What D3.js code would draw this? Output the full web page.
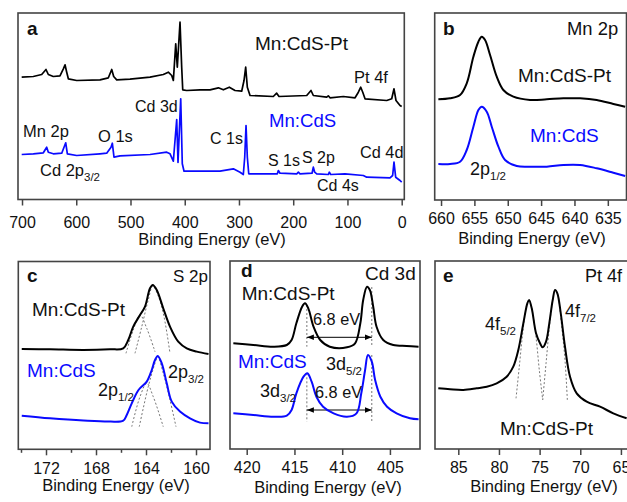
<!DOCTYPE html>
<html lang="en">
<head>
<meta charset="UTF-8">
<script src="https://d3js.org/d3.v7.min.js"></script>
<title>XPS spectra</title>
<style>
body { margin: 0; background: #fff; }
svg { display: block; font-family: 'Liberation Sans', Arial, sans-serif; }
.tick text { font-size: 16px; fill: #111; font-family: 'Liberation Sans', Arial, sans-serif; }
.tick line { stroke: #444; stroke-width: 1.5; }
</style>
</head>
<body>
<svg id="canvas"></svg>
<script>
// ---- data: [binding energy (eV), intensity (a.u.)] ----
let surveyPt = [[700.6,122.3],[679.2,123],[663.7,125],[655.8,130],[651.5,125],[642.3,123],[630,123.7],[623.8,130.7],[620.7,134.7],[617.6,127.3],[614.6,120.7],[599.2,119],[556.2,119.7],[540.8,121.7],[534.6,130],[531,123],[525.4,119.7],[500.9,120.3],[464,122.3],[439.5,125],[430.3,127.3],[424,124],[421,119],[416.6,155.7],[413.7,132.3],[408.7,177.3],[405.6,132.3],[403.7,109.7],[396.4,109],[371.8,109.7],[353.4,109.7],[338,111.7],[328.8,109.7],[317.8,112.3],[307.3,109],[295,108.3],[290.7,119],[287.6,132.3],[284.6,112.3],[279.6,104],[236.7,103],[230.5,106.3],[226.2,103],[175.1,104],[167.2,109],[162.9,104],[138.3,102.3],[135.3,103.7],[132.2,101.7],[107.6,103],[86,101.7],[79.9,107.3],[75.5,112.3],[71.8,107.3],[67.6,100.7],[27.6,99],[18.4,100.7],[14.2,110.7],[10.5,99],[3.1,94],[0,93]]
let surveyCdS = [[700.6,45],[679.2,45.7],[660.7,46.7],[654.5,52.3],[651.5,47.3],[642.3,45.7],[626.8,46.3],[619.4,56.7],[616.4,45.7],[599.2,44],[556.2,45.7],[543.9,46.3],[535.9,52.3],[533.5,56.3],[530.4,42.3],[519.3,43.7],[464,45],[433.2,47.3],[427.1,45.7],[421,38.3],[414.8,80],[412.4,37],[407.4,100.7],[404.5,35.7],[401.3,28.3],[371.8,28.3],[335,28.3],[310.4,30.7],[298,27.3],[292,25],[289.4,42.3],[287,74],[284.6,42.3],[282,25.7],[248.9,25.7],[229.3,25.7],[227.4,29],[224.3,26.3],[193.5,25.7],[190.5,27.3],[187.5,25.7],[165.3,26.3],[162.9,32.3],[160.4,27.3],[156.7,25.7],[135.3,25],[133.4,27.3],[130.9,25],[104.5,25.7],[70.7,24],[64.5,22.3],[21.6,21.7],[16.7,24],[14.2,37.3],[11.1,22.3],[3.1,19],[0,17.3]]

let mnPt = [[660.4,100.7],[658.65,101.7],[657.15,105],[656.15,116.7],[655.15,143.3],[654.4,158.3],[653.9,163.3],[653.4,160],[652.65,145],[651.65,123.3],[650.66,110],[649.16,103.3],[646.66,100],[644.15,100.7],[641.66,101.7],[639.16,101.7],[636.66,100],[634.17,96],[632.4,93.3]]
let mnCdS = [[660.4,36],[658.65,36],[657.15,38.3],[656.15,50],[655.15,73.3],[654.4,90],[653.9,93.3],[653.15,88.3],[652.4,73.3],[651.4,53.3],[650.4,40],[648.65,34],[646.66,33.3],[644.15,33.3],[641.66,35],[639.16,35],[636.66,31.7],[634.17,27.3],[632.4,24]]

let sPt = [[173.94,100.3],[171.68,100],[169,99.3],[166.88,100],[165.82,101],[165.42,109.3],[165.02,122.7],[164.48,134.3],[164.08,142.7],[163.68,161],[163.46,164.3],[163.14,159.3],[162.62,141],[162.08,122.7],[161.42,107.7],[160.74,101],[159.94,97.7],[159,95.3]]
let sCdS = [[173.94,33.6],[171.68,31],[169,28.7],[166.88,27.7],[165.82,28.7],[165.54,34.3],[165.14,46],[164.6,59.3],[163.94,67.7],[163.54,79.3],[163.28,89.3],[163.06,93.3],[162.74,86],[162.34,66],[161.94,47.7],[161.28,37.7],[160.48,31],[159.68,26.7],[159,26]]
let sPtFit1 = [[165.6,96],[165.02,119.3],[164.48,134.3],[163.94,121],[163.28,97.6]]
let sPtFit2 = [[164.88,96],[164.34,122.6],[163.82,149.3],[163.46,163.3],[163,152.6],[162.56,132.6],[162.08,96]]
let sCdSFit1 = [[165.14,22.6],[164.48,52.6],[163.94,66],[163.42,52.6],[162.62,22.6]]
let sCdSFit2 = [[164.54,22.6],[163.82,62.6],[163.28,86],[163.06,92.6],[162.62,76],[162.08,49.3],[161.6,22.6]]

let cdPt = [[421.4,105.7],[419.3,104],[417.2,102.3],[415.8,104],[415.3,109],[414.8,125.7],[414.2,142.3],[413.9,145.7],[413.55,140.7],[413,122.3],[412.3,109],[411.3,102.3],[409.5,101.7],[408.65,105.7],[408.1,125.7],[407.8,149],[407.4,162.3],[407.1,159],[406.75,142.3],[406.4,122.3],[405.7,109],[404.65,104],[403.25,103],[402,102.3]]
let cdCdS = [[421.4,35.7],[419.3,34],[417.2,32.3],[415.8,33.3],[415.3,39],[414.8,55.7],[414.05,72.3],[413.65,75.7],[413.2,67.3],[412.7,52.3],[412,42.3],[410.9,35.7],[409.5,32.3],[408.5,35.7],[408,55.7],[407.6,79],[407.3,94],[406.9,87.3],[406.55,69],[406,52.3],[405.3,42.3],[404.3,35.7],[402.9,30.7],[402,29.7]]
let cdPeaks = [413.7, 406.9]
let cdPtMarks = [144, 162, 102.3, 111.7]    // left top, right top, bottom, arrow level
let cdCdSMarks = [75.7, 94, 27.5, 39]

let ptPt = [[87.46,60.7],[86.02,59.7],[84.38,59],[82.74,60.7],[81.5,62.3],[80.28,65.7],[79.05,72.3],[78.24,82.3],[77.62,99],[77,125.7],[76.51,145.7],[76.3,149],[75.97,140.7],[75.44,115.7],[74.95,105.7],[74.62,101.7],[74.21,107.3],[73.81,125.7],[73.39,149],[73.1,159],[72.82,155.7],[72.4,135.7],[71.88,102.3],[71.26,72.3],[70.44,55.7],[69.21,47.3],[67.57,42.3],[65.94,35.7],[64.3,30.7]]
let ptFit1 = [[77.9,50.7],[77.5,82.3],[77.08,115.7],[76.59,144],[76.3,149],[75.97,140.7],[75.44,111.7],[75.04,79],[74.62,49]]
let ptFit2 = [[74.62,49],[74.21,85.7],[73.81,120.7],[73.39,149],[73.1,159],[72.82,155.7],[72.28,122.3],[71.88,89],[71.59,49]]

let ticksA = [700, 600, 500, 400, 300, 200, 100, 0]
let ticksB = [660, 655, 650, 645, 640, 635]
let ticksC = [172, 168, 164, 160]
let ticksCMinor = [174, 170, 166, 162]
let ticksD = [420, 415, 410, 405]
let ticksE = [85, 80, 75, 70, 65]

// ---- layout ----
let width = 627
let height = 502
let black = '#000'
let blue = '#0a0aff'

let svg = d3.select('#canvas').attr('width', width).attr('height', height)

svg.append('defs').append('marker')
    .attr('id', 'head')
    .attr('viewBox', '0 0 10 10')
    .attr('refX', 10).attr('refY', 5)
    .attr('markerWidth', 7).attr('markerHeight', 7)
    .attr('orient', 'auto-start-reverse')
    .append('path').attr('d', 'M0,1 L10,5 L0,9 Z').attr('fill', '#000')

let makePanel = (p) => {
    let x = d3.scaleLinear().domain(p.xDomain).range([p.left, p.right])
    let y = d3.scaleLinear().domain([0, p.bottom - p.top]).range([p.bottom, p.top])
    let g = svg.append('g')

    if (p.minor) {
        g.append('g')
            .attr('transform', 'translate(0,' + p.bottom + ')')
            .call(d3.axisBottom(x).tickValues(p.minor).tickSize(3.5).tickFormat(''))
            .call(a => a.select('.domain').remove())
    }
    let axis = d3.axisBottom(x)
        .tickValues(p.ticks)
        .tickSize(6)
        .tickPadding(p.pad)
        .tickFormat(d3.format('d'))
    g.append('g')
        .attr('transform', 'translate(0,' + p.bottom + ')')
        .call(axis)
        .call(a => a.select('.domain').remove())

    g.append('rect')
        .attr('x', p.left).attr('y', p.top)
        .attr('width', p.right - p.left).attr('height', p.bottom - p.top)
        .attr('fill', 'none').attr('stroke', '#444').attr('stroke-width', 1.6)

    g.append('text')
        .attr('x', p.titleX).attr('y', p.titleY)
        .attr('text-anchor', 'middle')
        .attr('font-size', 16.5)
        .attr('fill', '#111')
        .text('Binding Energy (eV)')

    p.x = x
    p.y = y
    p.g = g
    return p
}

let drawLine = (p, data, color, opts) => {
    opts = opts || {}
    let line = d3.line()
        .x(d => p.x(d[0]))
        .y(d => p.y(d[1]))
        .curve(opts.curve || d3.curveCatmullRom.alpha(0.5))
    p.g.append('path')
        .datum(data)
        .attr('d', line)
        .attr('fill', 'none')
        .attr('stroke', color)
        .attr('stroke-width', opts.width || 2)
        .attr('stroke-dasharray', opts.dash || null)
        .attr('stroke-linejoin', 'round')
}

let label = (x, y, size, txt, opts) => {
    opts = opts || {}
    let t = svg.append('text')
        .attr('x', x).attr('y', y)
        .attr('font-size', size)
        .attr('fill', opts.color || '#111')
        .attr('font-weight', opts.bold ? 'bold' : null)
        .text(txt)
    if (opts.sub) {
        t.append('tspan')
            .attr('dy', 5)
            .attr('font-size', 11.5)
            .text(opts.sub)
    }
}

// ---- panel a: survey ----
let pa = makePanel({left: 18, right: 404.3, top: 13, bottom: 199.5,
    xDomain: [707.4, -4.8], ticks: ticksA, pad: 11, titleX: 212, titleY: 245})
drawLine(pa, surveyPt, black, {curve: d3.curveLinear, width: 1.7})
drawLine(pa, surveyCdS, blue, {curve: d3.curveLinear, width: 1.7})
label(27, 35, 19, 'a', {bold: true})
label(255, 50, 19, 'Mn:CdS-Pt')
label(354, 83, 16.5, 'Pt 4f')
label(135, 111.5, 16, 'Cd 3d')
label(269, 126.7, 18.6, 'Mn:CdS', {color: blue})
label(210, 144, 16, 'C 1s')
label(23, 137, 16.5, 'Mn 2p')
label(98, 141.5, 16.5, 'O 1s')
label(40, 176, 16.5, 'Cd 2p', {sub: '3/2'})
label(268, 165.7, 16, 'S 1s')
label(302, 163.3, 16, 'S 2p')
label(360, 158.3, 16.3, 'Cd 4d')
label(317, 190.7, 16, 'Cd 4s')

// ---- panel b: Mn 2p ----
let pb = makePanel({left: 434.7, right: 626.5, top: 13, bottom: 200,
    xDomain: [660.95, 632.2], ticks: ticksB, pad: 7, titleX: 532, titleY: 244})
drawLine(pb, mnPt, black)
drawLine(pb, mnCdS, blue)
label(443, 35, 19, 'b', {bold: true})
label(567, 35, 18.4, 'Mn 2p')
label(518, 81.7, 19, 'Mn:CdS-Pt')
label(530, 141.7, 19, 'Mn:CdS', {color: blue})
label(470, 175, 18, '2p', {sub: '1/2'})

// ---- panel c: S 2p ----
let pc = makePanel({left: 18.3, right: 210, top: 261.5, bottom: 449.3,
    xDomain: [174.216, 158.88], ticks: ticksC, minor: ticksCMinor, pad: 7, titleX: 116, titleY: 491})
drawLine(pc, sPtFit1, '#777', {width: 1, dash: '2,2'})
drawLine(pc, sPtFit2, '#777', {width: 1, dash: '2,2'})
drawLine(pc, sCdSFit1, '#777', {width: 1, dash: '2,2'})
drawLine(pc, sCdSFit2, '#777', {width: 1, dash: '2,2'})
drawLine(pc, sPt, black)
drawLine(pc, sCdS, blue)
label(27, 282, 19, 'c', {bold: true})
label(173, 282, 17, 'S 2p')
label(32, 315.7, 19, 'Mn:CdS-Pt')
label(27, 376.7, 19, 'Mn:CdS', {color: blue})
label(168, 378, 18, '2p', {sub: '3/2'})
label(98, 395.7, 18, '2p', {sub: '1/2'})

// ---- panel d: Cd 3d ----
let pd = makePanel({left: 230, right: 420, top: 261, bottom: 449,
    xDomain: [421.75, 401.85], ticks: ticksD, pad: 7, titleX: 328, titleY: 493})
;[cdPtMarks, cdCdSMarks].forEach(m => {
    pd.g.append('line')
        .attr('x1', pd.x(cdPeaks[0])).attr('x2', pd.x(cdPeaks[0]))
        .attr('y1', pd.y(m[0])).attr('y2', pd.y(m[2]))
        .attr('stroke', '#777').attr('stroke-width', 1).attr('stroke-dasharray', '2,2')
    pd.g.append('line')
        .attr('x1', pd.x(cdPeaks[1])).attr('x2', pd.x(cdPeaks[1]))
        .attr('y1', pd.y(m[1])).attr('y2', pd.y(m[2]))
        .attr('stroke', '#777').attr('stroke-width', 1).attr('stroke-dasharray', '2,2')
    pd.g.append('line')
        .attr('x1', pd.x(cdPeaks[0])).attr('x2', pd.x(cdPeaks[1]))
        .attr('y1', pd.y(m[3])).attr('y2', pd.y(m[3]))
        .attr('stroke', '#000').attr('stroke-width', 1)
        .attr('marker-start', 'url(#head)').attr('marker-end', 'url(#head)')
})
drawLine(pd, cdPt, black)
drawLine(pd, cdCdS, blue)
label(241, 277, 19, 'd', {bold: true})
label(365, 280, 19, 'Cd 3d')
label(241.7, 300, 19, 'Mn:CdS-Pt')
label(313, 325, 16.3, '6.8 eV')
label(238, 368.3, 19, 'Mn:CdS', {color: blue})
label(326, 370, 18, '3d', {sub: '5/2'})
label(260, 396.7, 18, '3d', {sub: '3/2'})
label(315, 398.3, 16.3, '6.8 eV')

// ---- panel e: Pt 4f ----
let pe = makePanel({left: 435, right: 655, top: 261, bottom: 449,
    xDomain: [87.866, 60.81], ticks: ticksE, pad: 7, titleX: 544, titleY: 492})
drawLine(pe, ptFit1, '#777', {width: 1, dash: '2,2'})
drawLine(pe, ptFit2, '#777', {width: 1, dash: '2,2'})
drawLine(pe, ptPt, black)
label(443, 282, 19, 'e', {bold: true})
label(585, 282, 18, 'Pt 4f')
label(485, 330, 18, '4f', {sub: '5/2'})
label(565, 316.7, 18, '4f', {sub: '7/2'})
label(500, 435, 19, 'Mn:CdS-Pt')
</script>
</body>
</html>
